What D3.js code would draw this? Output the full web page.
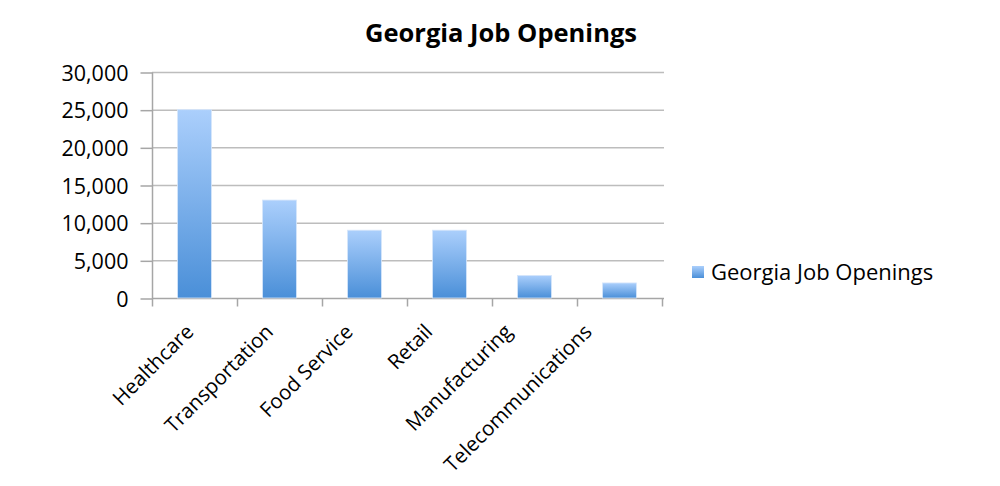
<!DOCTYPE html>
<html>
<head>
<meta charset="utf-8">
<script src="https://cdn.jsdelivr.net/npm/d3@7"></script>
<style>
  html, body { margin: 0; padding: 0; background: #fff; }
  svg { display: block; font-family: "Open Sans", "DejaVu Sans", sans-serif; }
</style>
</head>
<body>
<svg id="chart" width="1000" height="486"></svg>
<script>
const categories = ["Healthcare", "Transportation", "Food Service", "Retail", "Manufacturing", "Telecommunications"];
const values = [25000, 13000, 9000, 9000, 3000, 2000];
const seriesName = "Georgia Job Openings";
const titleText = "Georgia Job Openings";
const yTicks = [0, 5000, 10000, 15000, 20000, 25000, 30000];

const svg = d3.select("#chart");
const margin = { left: 152, right: 338, top: 72, bottom: 188 };
const W = 1000, H = 486;
const plotW = W - margin.left - margin.right;
const plotH = H - margin.top - margin.bottom;

const x = d3.scaleBand().domain(categories).range([margin.left, margin.left + plotW]).paddingInner(0.6).paddingOuter(0.3);
const xLabel = d3.scaleBand().domain(categories).range([margin.left, margin.left + plotW * 0.937]);
const y = d3.scaleLinear().domain([0, 30000]).range([margin.top + plotH, margin.top]);

const defs = svg.append("defs");
const grad = defs.append("linearGradient").attr("id", "barGrad").attr("x1", 0).attr("y1", 0).attr("x2", 0).attr("y2", 1);
grad.append("stop").attr("offset", "0%").attr("stop-color", "#abcffc");
grad.append("stop").attr("offset", "100%").attr("stop-color", "#4a8fd8");

// gridlines
svg.append("g").selectAll("line").data(yTicks.filter(d => d > 0)).join("line")
  .attr("x1", margin.left).attr("x2", margin.left + plotW + 2)
  .attr("y1", d => y(d) + 0.5).attr("y2", d => y(d) + 0.5)
  .attr("stroke", "#bdbdbd").attr("stroke-width", 1.5);

// y axis
const yAxis = d3.axisLeft(y).tickValues(yTicks).tickSize(12).tickPadding(12).tickFormat(d3.format(","));
const gy = svg.append("g").attr("transform", `translate(${margin.left + 0.5},0.5)`).call(yAxis);
gy.select(".domain").attr("stroke", "#a6a6a6").attr("stroke-width", 1.5).attr("d", `M0,${margin.top}V${margin.top + plotH}`);
gy.selectAll(".tick line").attr("stroke", "#a6a6a6").attr("stroke-width", 1.5);
gy.selectAll(".tick text").attr("font-size", 21.5).attr("fill", "#000").attr("font-family", "Open Sans").attr("dy", "0.36em");

// x axis
const xAxis = d3.axisBottom(x).tickSize(8).tickFormat("");
const gx = svg.append("g").attr("transform", `translate(0,${margin.top + plotH + 0.5})`).call(xAxis);
gx.select(".domain").attr("stroke", "#a6a6a6").attr("stroke-width", 1.5).attr("d", `M${margin.left},0H${margin.left + plotW + 2}`);
gx.selectAll(".tick").remove();
const bounds = d3.range(categories.length + 1).map(i => margin.left + i * x.step());
gx.selectAll("line.b").data(bounds).join("line").attr("class", "b")
  .attr("x1", d => d + 0.5).attr("x2", d => d + 0.5).attr("y1", 0).attr("y2", 8)
  .attr("stroke", "#a6a6a6").attr("stroke-width", 1.5);

// category labels
svg.append("g").selectAll("text").data(categories).join("text")
  .attr("transform", d => `translate(${xLabel(d) + xLabel.bandwidth() / 2 + 3},${margin.top + plotH + 35}) rotate(-45)`)
  .attr("text-anchor", "end")
  .attr("font-size", 20.5)
  .attr("fill", "#000")
  .text(d => d);

// bars
svg.append("g").selectAll("rect").data(categories).join("rect")
  .attr("x", d => x(d))
  .attr("width", x.bandwidth())
  .attr("y", (d, i) => y(values[i]))
  .attr("height", (d, i) => y(0) - y(values[i]))
  .attr("fill", "url(#barGrad)")
  .attr("stroke", "#d6e6fb").attr("stroke-width", 0.8);

// title
svg.append("text").attr("x", 501).attr("y", 42).attr("text-anchor", "middle")
  .attr("font-size", 25.5).attr("font-weight", "bold").attr("fill", "#000").text(titleText);

// legend
const lg = svg.append("g").attr("transform", "translate(692,266)");
lg.append("rect").attr("width", 12).attr("height", 12).attr("fill", "url(#barGrad)");
lg.append("text").attr("x", 19).attr("y", 6).attr("dy", "0.36em").attr("font-size", 22).attr("fill", "#000").text(seriesName);
</script>
</body>
</html>
